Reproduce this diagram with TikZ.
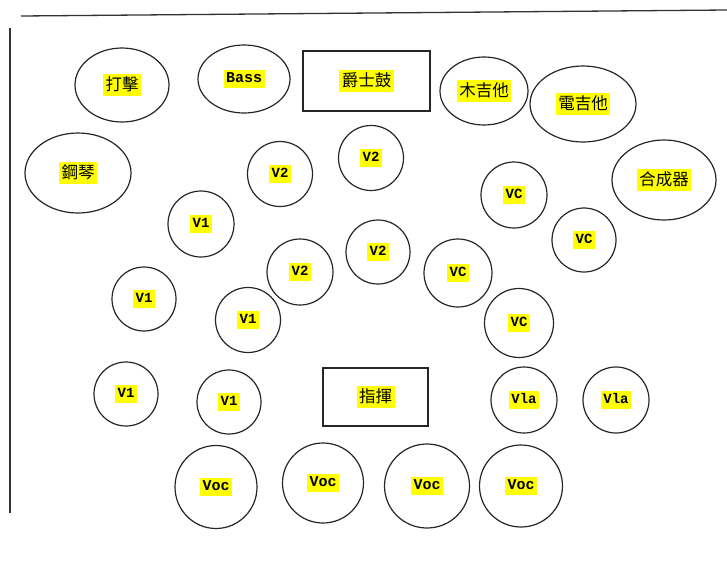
\documentclass[tikz,border=0pt]{standalone}
\usepackage{fontspec}
\usetikzlibrary{shapes.geometric}
\newfontfamily\cjkf{Noto Sans CJK TC}
\newfontfamily\monof{Liberation Mono}
\definecolor{hlyellow}{HTML}{FFFF00}
\setlength{\fboxsep}{2.5pt}
\newcommand{\hlm}[1]{\colorbox{hlyellow}{\monof\bfseries\fontsize{14}{16}\selectfont\rule[-3pt]{0pt}{13pt}#1}}
\newcommand{\hlb}[1]{\colorbox{hlyellow}{\monof\bfseries\fontsize{15}{17}\selectfont\rule[-3pt]{0pt}{13.5pt}#1}}
\newcommand{\hlc}[1]{\colorbox{hlyellow}{\cjkf\fontsize{16.5}{18}\selectfont\rule[-3.5pt]{0pt}{15pt}#1}}
\tikzset{
  seat/.style={circle,draw=black!85,line width=1.2pt,inner sep=0pt,minimum size=#1},
  oval/.style={ellipse,draw=black!85,line width=1.2pt,inner sep=0pt},
  box/.style={rectangle,draw=black!85,line width=1.2pt,inner sep=0pt},
  frame/.style={draw=black!80,line width=1.3pt}
}
\begin{document}
\begin{tikzpicture}[x=1pt,y=-1pt]
\useasboundingbox (0,0) rectangle (727,579);
% frame lines
\coordinate (tl) at (21,16);
\coordinate (tr) at (727,10);
\coordinate (lt) at (10,28);
\coordinate (lb) at (10,513);
\draw[frame] (tl) -- (tr);
\draw[frame] (lt) -- (lb);
% top row
\node[oval,minimum width=94pt,minimum height=74pt] (perc) at (122,85) {\hlc{打擊}};
\node[oval,minimum width=92pt,minimum height=68pt] (bass) at (244,79) {\hlb{Bass}};
\node[box,minimum width=127pt,minimum height=60pt] (drums) at (366.5,81) {\hlc{爵士鼓}};
\node[oval,minimum width=88pt,minimum height=68pt] (ag) at (484,91) {\hlc{木吉他}};
\node[oval,minimum width=106pt,minimum height=76pt] (eg) at (583,104) {\hlc{電吉他}};
\node[oval,minimum width=104pt,minimum height=80pt] (synth) at (664,180) {\hlc{合成器}};
\node[oval,minimum width=106pt,minimum height=80pt] (piano) at (78,173) {\hlc{鋼琴}};
% strings
\node[seat=65pt] (v2a) at (280,174) {\hlm{V2}};
\node[seat=65pt] (v2b) at (371,158) {\hlm{V2}};
\node[seat=66pt] (v1a) at (201,224) {\hlm{V1}};
\node[seat=66pt] (vca) at (514,195) {\hlm{VC}};
\node[seat=64pt] (vcb) at (584,240) {\hlm{VC}};
\node[seat=66pt] (v2c) at (300,272) {\hlm{V2}};
\node[seat=64pt] (v2d) at (378,252) {\hlm{V2}};
\node[seat=68pt] (vcc) at (458,273) {\hlm{VC}};
\node[seat=64pt] (v1b) at (144,299) {\hlm{V1}};
\node[seat=65pt] (v1c) at (248,320) {\hlm{V1}};
\node[seat=69pt] (vcd) at (519,323) {\hlm{VC}};
\node[seat=64pt] (v1d) at (126,394) {\hlm{V1}};
\node[seat=64pt] (v1e) at (229,402) {\hlm{V1}};
\node[box,minimum width=105pt,minimum height=58pt] (cond) at (375.5,397) {\hlc{指揮}};
\node[seat=66pt] (vla1) at (524,400) {\hlm{Vla}};
\node[seat=66pt] (vla2) at (616,400) {\hlm{Vla}};
% vocals
\node[oval,minimum width=82pt,minimum height=83pt] (voc1) at (216,487) {\hlb{Voc}};
\node[oval,minimum width=81pt,minimum height=80pt] (voc2) at (323,483) {\hlb{Voc}};
\node[oval,minimum width=85pt,minimum height=84pt] (voc3) at (427,486) {\hlb{Voc}};
\node[oval,minimum width=83pt,minimum height=82pt] (voc4) at (521,486) {\hlb{Voc}};
\end{tikzpicture}
\end{document}
